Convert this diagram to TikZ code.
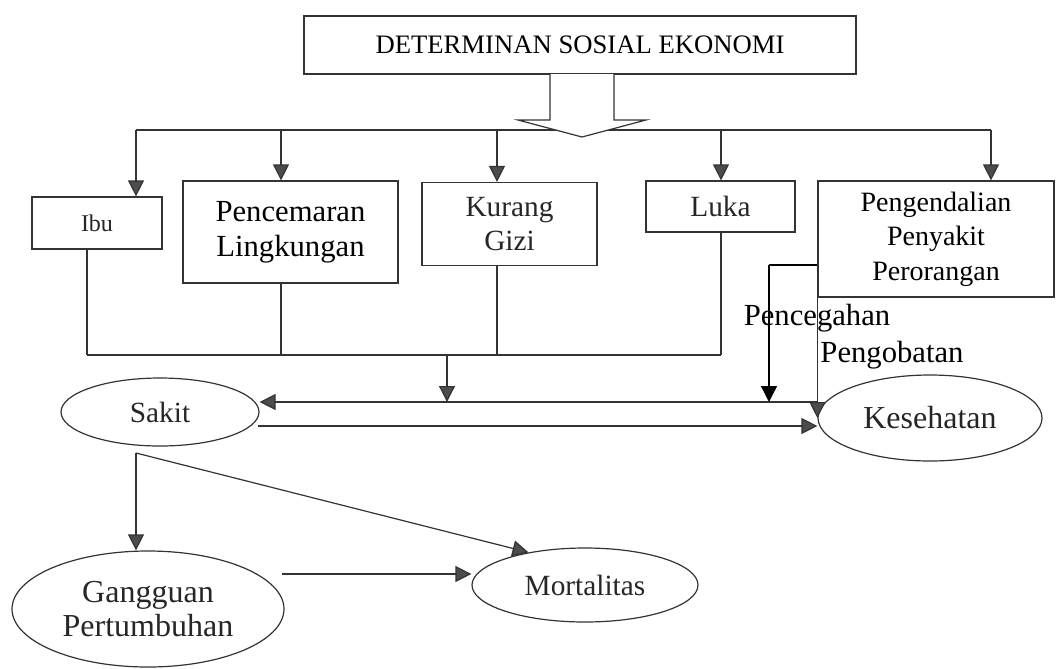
\documentclass[tikz,border=0pt]{standalone}
\usepackage{fontspec}
\setmainfont{Liberation Serif}
\usetikzlibrary{arrows.meta,shapes.geometric}

\begin{document}
\begin{tikzpicture}[x=0.75pt,y=-0.75pt,line width=0.9pt,
  box/.style={draw=black!80,rectangle,inner sep=0pt,align=center,text=black!85,
    font=\fontsize{22}{26}\selectfont},
  oval/.style={draw=black!80,ellipse,inner sep=0pt,align=center,text=black!85,
    font=\fontsize{22}{25}\selectfont},
  lbl/.style={inner sep=0pt,font=\fontsize{23}{26}\selectfont},
  arr/.style={draw=black!80,-{Triangle[length=12pt,width=12pt,fill=black!70]}},
  blk/.style={draw=black,-{Triangle[length=12pt,width=12pt]}}]
  \useasboundingbox (0,0) rectangle (1056,668);

  % top box
  \node[box,minimum width=414pt,minimum height=43.5pt,text=black,
    font=\fontsize{20}{24}\selectfont] (top) at (580,45) {DETERMINAN SOSIAL EKONOMI};

  % boxes
  \node[box,minimum width=97.5pt,minimum height=39pt,font=\fontsize{18}{20}\selectfont]
    (ibu) at (97,223) {Ibu};
  \node[box,minimum width=161.25pt,minimum height=76.5pt,text=black,
    font=\fontsize{23}{26}\selectfont] (pcm) at (290.5,232) {Pencemaran\\Lingkungan};
  \node[box,minimum width=131.25pt,minimum height=62.25pt] (kg) at (509.5,224) {Kurang\\Gizi};
  \node[box,minimum width=111.75pt,minimum height=38.25pt] (luka) at (720.5,206.5) {Luka};
  \node[box,minimum width=177pt,minimum height=87pt,text=black,
    font=\fontsize{21}{26}\selectfont] (ppp) at (936,239) {Pengendalian\\Penyakit\\Perorangan};

  % ellipses
  \node[oval,minimum width=148.5pt,minimum height=51pt] (sakit) at (160,412) {Sakit};
  \node[oval,minimum width=168pt,minimum height=64.5pt,font=\fontsize{24}{26}\selectfont]
    (kes) at (930,418) {Kesehatan};
  \node[oval,minimum width=204pt,minimum height=87pt,font=\fontsize{24}{26}\selectfont]
    (gg) at (148,609) {Gangguan\\Pertumbuhan};
  \node[oval,minimum width=169.5pt,minimum height=55.5pt] (mort) at (585,585) {Mortalitas};

  % distribution line
  \coordinate (d1) at (136,130);
  \coordinate (d2) at (281,130);
  \coordinate (d3) at (497,130);
  \coordinate (d4) at (721,130);
  \coordinate (d5) at (991,130);
  \draw[black!80] (d1) -- (d5);
  \foreach \d/\n in {d1/ibu,d2/pcm,d3/kg,d4/luka,d5/ppp}
    \draw[arr] (\d) -- (\d |- \n.north);

  % block arrow
  \draw[black!80,fill=white] (550,74) -- (550,120) -- (518,120) -- (582,137)
    -- (646,120) -- (614,120) -- (614,74);

  % collector
  \coordinate (c1) at (87,355);
  \coordinate (c2) at (281,355);
  \coordinate (c3) at (497,355);
  \coordinate (c4) at (721,355);
  \coordinate (cm) at (447,355);
  \foreach \c/\n in {c1/ibu,c2/pcm,c3/kg,c4/luka}
    \draw[black!80] (\c |- \n.south) -- (\c);
  \draw[black!80] (c1) -- (c4);

  % return line
  \coordinate (rc) at (ppp.south west |- 0,402);
  \draw[arr] (cm) -- (cm |- rc);
  \draw[black!80] (ppp.south west) -- (rc);
  \draw[arr] (rc) -- (rc -| sakit.east);
  \draw[arr] (rc) -- (kes.west);

  % sakit to kesehatan
  \coordinate (s2) at (258,426);
  \draw[arr] (s2) -- (s2 -| kes.west);

  % pencegahan
  \coordinate (pk) at (769,265);
  \draw[line width=2pt] (pk -| ppp.west) -- (pk);
  \draw[blk] (pk) -- (pk |- rc);
  \node[lbl] (pcg) at (817,318) {Pencegahan};
  \node[lbl] (pgb) at (892,355) {Pengobatan};

  % sakit branch
  \coordinate (br) at (136,453);
  \draw[arr] (br) -- (br |- gg.north);
  \draw[arr] (br) -- (mort.150);
  \coordinate (g1) at (282,574);
  \draw[arr] (g1) -- (g1 -| mort.west);
\end{tikzpicture}
\end{document}
